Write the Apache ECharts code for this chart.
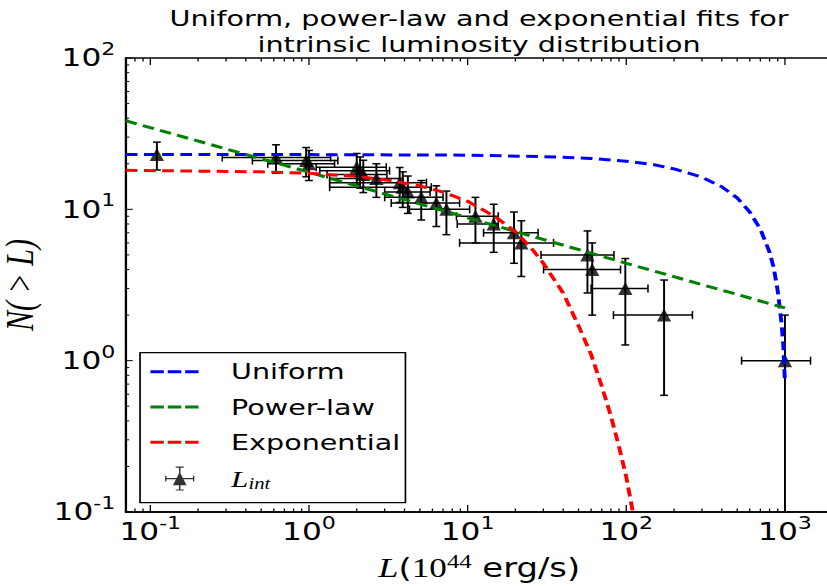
<!DOCTYPE html>
<html><head><meta charset="utf-8">
<script src="https://cdn.jsdelivr.net/npm/echarts@6/dist/echarts.min.js"></script>
<style>
html,body{margin:0;padding:0;background:#fff;overflow:hidden;width:827px;height:586px;}
#wrap{width:636px;height:586px;transform:scaleX(1.3003);transform-origin:0 0;}
#chart{width:636px;height:586px;}
</style></head><body><div id="wrap"><div id="chart"></div></div>
<script>
// ---- data ----
const lumX  = [0.11, 0.62, 0.96, 1.0, 2.0, 2.1, 2.2, 2.66, 3.73, 3.9, 4.2, 5.1, 6.35, 7.35, 11.2, 14.6, 19.6, 21.8, 56.9, 61, 98.6, 173, 1000];
const lumLo = [0.11, 0.284, 0.44, 0.55, 1.11, 1.17, 1.3, 1.35, 1.35, 1.35, 3.0, 3.0, 3.3, 4.3, 8.5, 8.6, 12.6, 8.9, 29, 30.1, 60, 83, 533];
const lumHi = [0.11, 1.37, 1.52, 1.45, 3.07, 3.22, 3.1, 3.9, 5.5, 5.9, 5.8, 7.0, 8.9, 10.3, 15.6, 15.6, 27.8, 34.8, 83.6, 92, 137, 261, 1450];
const countN = [23, 22, 21, 20, 19, 18, 17, 16, 15, 14, 13, 12, 11, 10, 9, 8, 7, 6, 5, 4, 3, 2, 1];
const nLow  = [18.2, 17.3, 16.4, 15.5, 14.6, 13.8, 12.9, 12.0, 11.1, 10.3, 9.4, 8.5, 7.7, 6.8, 6.0, 5.2, 4.4, 3.6, 2.8, 2.0, 1.27, 0.59, 0];
const nHigh = [27.8, 26.7, 25.6, 24.5, 23.4, 22.2, 21.1, 20.0, 18.9, 17.7, 16.6, 15.5, 14.3, 13.2, 12.0, 10.8, 9.6, 8.4, 7.2, 6.0, 4.73, 3.41, 2.0];

const uniformL = [0.07, 1, 10, 30, 60, 100, 150, 200, 300, 400, 500, 600, 700, 800, 850, 900, 950, 975, 1000];
const uniformN = [23.0, 23.0, 22.8, 22.3, 21.7, 20.8, 19.7, 18.5, 16.3, 14.1, 11.9, 9.6, 7.4, 5.2, 4.1, 2.9, 1.8, 1.3, 0.72];
const powerL = [0.07, 1, 10, 100, 1000];
const powerN = [38.5, 17.6, 8.8, 4.4, 2.23];
const expL = [0.07, 0.5, 1, 2, 3, 5, 7, 10, 15, 20, 25, 30, 40, 50, 60, 70, 80, 90, 100, 110];
const expN = [18.1, 17.7, 17.3, 16.5, 15.7, 14.3, 13.0, 11.3, 8.9, 7.1, 5.6, 4.4, 2.8, 1.7, 1.1, 0.68, 0.43, 0.27, 0.17, 0.10];

const xMajorTicks = [0.1, 1, 10, 100, 1000];
const xMinorTicks = [0.08, 0.09, 0.2, 0.3, 0.4, 0.5, 0.6, 0.7, 0.8, 0.9, 2, 3, 4, 5, 6, 7, 8, 9,
                     20, 30, 40, 50, 60, 70, 80, 90, 200, 300, 400, 500, 600, 700, 800, 900];
const yMajorTicks = [0.1, 1, 10, 100];
const yMinorTicks = [0.2, 0.3, 0.4, 0.5, 0.6, 0.7, 0.8, 0.9, 2, 3, 4, 5, 6, 7, 8, 9,
                     20, 30, 40, 50, 60, 70, 80, 90];

const X_MIN = 0.07, X_MAX = 2000, Y_MIN = 0.1, Y_MAX = 100;

const chart = echarts.init(document.getElementById('chart'), null, {renderer: 'svg'});
const SANS = 'DejaVu Sans';
const SERIF = 'Liberation Serif';

function ln(x1, y1, x2, y2, w) {
  return {type: 'line', shape: {x1, y1, x2, y2}, style: {stroke: '#000', lineWidth: w || 1.5}};
}
const CAPX = 3, CAPY = 4;
function renderErr(params, api) {
  const x = api.value(0), y = api.value(1), xlo = api.value(2), xhi = api.value(3), ylo = api.value(4), yhi = api.value(5);
  const c = api.coord([x, y]);
  const ch = [];
  const pTop = api.coord([x, yhi]);
  const hasLow = ylo > 0;
  const pBot = api.coord([x, hasLow ? ylo : Y_MIN]);
  ch.push(ln(c[0], pTop[1], c[0], pBot[1]));
  ch.push(ln(c[0] - CAPX, pTop[1], c[0] + CAPX, pTop[1]));
  if (hasLow) ch.push(ln(c[0] - CAPX, pBot[1], c[0] + CAPX, pBot[1]));
  if (xhi > xlo) {
    const pl = api.coord([xlo, y]), pr = api.coord([xhi, y]);
    ch.push(ln(pl[0], c[1], pr[0], c[1]));
    ch.push(ln(pl[0], c[1] - CAPY, pl[0], c[1] + CAPY, 1.2));
    ch.push(ln(pr[0], c[1] - CAPY, pr[0], c[1] + CAPY, 1.2));
  }
  return {type: 'group', children: ch};
}
function xTicks(len) {
  return function (params, api) {
    const v = api.value(0);
    const b = api.coord([v, Y_MIN]), t = api.coord([v, Y_MAX]);
    return {type: 'group', children: [ln(b[0], b[1], b[0], b[1] - len, 1), ln(t[0], t[1], t[0], t[1] + len, 1)]};
  };
}
function yTicks(len) {
  return function (params, api) {
    const v = api.value(1);
    const l = api.coord([X_MIN, v]);
    return ln(l[0], l[1], l[0] + len, l[1], 1);
  };
}
function powLabel(v) {
  const lg = Math.log10(v), e = Math.round(lg);
  if (Math.abs(lg - e) > 1e-6) return '';
  return '{b|10}{s|' + e + '}';
}
const tickRich = {
  b: {fontFamily: SANS, fontSize: 24, color: '#000', lineHeight: 34},
  s: {fontFamily: SANS, fontSize: 17, color: '#000', verticalAlign: 'top', lineHeight: 20}
};
const dashed = [9, 5];
const dashIcon = 'path://M0,0 L10.3,0 L10.3,3 L0,3 Z M13.3,0 L23.7,0 L23.7,3 L13.3,3 Z M26.7,0 L37,0 L37,3 L26.7,3 Z';
const errIcon = 'path://M-18.7,0 L-18.69,0 L-18.69,0.01 L-18.7,0.01 Z ' +
  'M-10.9,-0.6 L10.9,-0.6 L10.9,0.6 L-10.9,0.6 Z ' +
  'M-10.9,-2.8 L-9.9,-2.8 L-9.9,2.8 L-10.9,2.8 Z M9.9,-2.8 L10.9,-2.8 L10.9,2.8 L9.9,2.8 Z ' +
  'M-0.55,-11.65 L0.55,-11.65 L0.55,11.65 L-0.55,11.65 Z ' +
  'M-3,-11.65 L3,-11.65 L3,-10.65 L-3,-10.65 Z M-3,10.65 L3,10.65 L3,11.65 L-3,11.65 Z ' +
  'M0,-6.5 L5.1,6.5 L-5.1,6.5 Z';

const option = {
  backgroundColor: '#fff',
  animation: false,
  title: {
    text: 'Uniform, power-law and exponential fits for\nintrinsic luminosity distribution',
    left: 368.4, top: 0, textAlign: 'center', padding: [5, 0, 0, 0],
    textStyle: {fontFamily: SANS, fontSize: 22, fontWeight: 'normal', color: '#000', lineHeight: 26}
  },
  grid: {left: 96.7, top: 58, width: 543.7, height: 454, show: true, borderColor: '#000', borderWidth: 1.5,
         backgroundColor: 'transparent', containLabel: false, outerBoundsMode: 'none'},
  legend: {
    orient: 'vertical', left: 107.7, top: 352.7,
    padding: [7, 4, 11, 8], itemGap: 11.3, itemWidth: 37, itemHeight: 24,
    backgroundColor: '#fff', borderColor: '#000', borderWidth: 1.3, borderRadius: 0,
    textStyle: {fontFamily: SANS, fontSize: 22, color: '#000', lineHeight: 24, padding: [0, 0, 0, 20],
      rich: {
        i: {fontFamily: SERIF, fontStyle: 'italic', fontSize: 24, color: '#000', lineHeight: 26},
        s: {fontFamily: SERIF, fontStyle: 'italic', fontSize: 16, color: '#000', verticalAlign: 'bottom', lineHeight: 20}
      }},
    formatter: function (name) { return name === 'L_int' ? '{i|L}{s|int}' : name; },
    data: [{name: 'Uniform', icon: dashIcon}, {name: 'Power-law', icon: dashIcon},
           {name: 'Exponential', icon: dashIcon}, {name: 'L_int', icon: errIcon}]
  },
  xAxis: {
    type: 'log', min: X_MIN, max: X_MAX, logBase: 10,
    axisLine: {show: true, lineStyle: {color: '#000', width: 1.5}},
    axisTick: {show: false}, splitLine: {show: false}, minorTick: {show: false},
    axisLabel: {formatter: powLabel, rich: tickRich, margin: 3, showMinLabel: false, showMaxLabel: false},
    name: '{L|L}{p|(}{n|10}{e|44}{u| erg/s)}', nameLocation: 'middle', nameGap: 40,
    nameTextStyle: {rich: {
      L: {fontFamily: SERIF, fontStyle: 'italic', fontSize: 28, color: '#000', lineHeight: 32},
      p: {fontFamily: SANS, fontSize: 26, color: '#000', lineHeight: 32},
      n: {fontFamily: SERIF, fontSize: 27, color: '#000', lineHeight: 32},
      e: {fontFamily: SERIF, fontSize: 19, color: '#000', verticalAlign: 'top', lineHeight: 22},
      u: {fontFamily: SANS, fontSize: 26, color: '#000', lineHeight: 32}
    }}
  },
  yAxis: {
    type: 'log', min: Y_MIN, max: Y_MAX, logBase: 10,
    axisLine: {show: true, lineStyle: {color: '#000', width: 1.5}},
    axisTick: {show: false}, splitLine: {show: false}, minorTick: {show: false},
    axisLabel: {formatter: powLabel, rich: tickRich, margin: 8},
    name: 'N( > L)', nameLocation: 'middle', nameGap: 64, nameRotate: 90,
    nameTextStyle: {fontFamily: SERIF, fontStyle: 'italic', fontSize: 30, color: '#000', lineHeight: 26}
  },
  series: [
    {type: 'custom', name: 'xMajor', silent: true, z: 5, clip: false, renderItem: xTicks(7),
     data: xMajorTicks.map(v => [v, 1]), encode: {x: 0, y: 1}},
    {type: 'custom', name: 'xMinor', silent: true, z: 5, clip: false, renderItem: xTicks(3.5),
     data: xMinorTicks.map(v => [v, 1]), encode: {x: 0, y: 1}},
    {type: 'custom', name: 'yMajor', silent: true, z: 5, clip: false, renderItem: yTicks(5.4),
     data: yMajorTicks.map(v => [1, v]), encode: {x: 0, y: 1}},
    {type: 'custom', name: 'yMinor', silent: true, z: 5, clip: false, renderItem: yTicks(2.7),
     data: yMinorTicks.map(v => [1, v]), encode: {x: 0, y: 1}},
    {type: 'custom', name: 'errbars', silent: true, z: 2, clip: false, renderItem: renderErr,
     data: lumX.map((x, i) => [x, countN[i], lumLo[i], lumHi[i], nLow[i], nHigh[i]]), encode: {x: 0, y: 1}},
    {type: 'scatter', name: 'L_int', z: 3, symbol: 'triangle', symbolSize: [11, 13],
     itemStyle: {color: '#000'}, data: lumX.map((x, i) => [x, countN[i]])},
    {type: 'line', name: 'Uniform', z: 4, symbol: 'none', clip: true,
     lineStyle: {color: '#0000ff', width: 3, type: dashed}, itemStyle: {color: '#0000ff'},
     data: uniformL.map((x, i) => [x, uniformN[i]])},
    {type: 'line', name: 'Power-law', z: 4, symbol: 'none', clip: true,
     lineStyle: {color: '#008000', width: 3, type: dashed}, itemStyle: {color: '#008000'},
     data: powerL.map((x, i) => [x, powerN[i]])},
    {type: 'line', name: 'Exponential', z: 4, symbol: 'none', clip: true,
     lineStyle: {color: '#ff0000', width: 3, type: dashed}, itemStyle: {color: '#ff0000'},
     data: expL.map((x, i) => [x, expN[i]])}
  ]
};
chart.setOption(option);
</script></body></html>
